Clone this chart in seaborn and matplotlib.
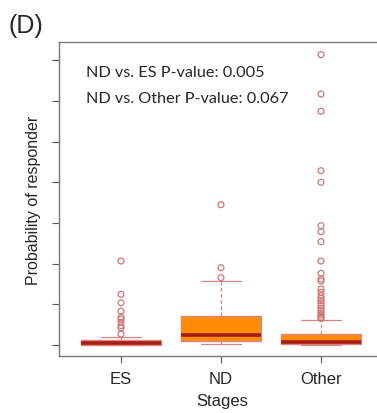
import numpy as np
import pandas as pd
import matplotlib
matplotlib.use("Agg")
import matplotlib.pyplot as plt
import seaborn as sns

stages = ["ES", "ND", "Other"]
q1 = [0.0, 0.009, 0.0025]
med = [0.0042, 0.0246, 0.0074]
q3 = [0.0123, 0.072, 0.0263]
whislo = [0.0, 0.0017, 0.0]
whishi = [0.019, 0.1565, 0.0614]
fliers_es = [0.2064, 0.1246, 0.1039, 0.0835, 0.0681, 0.0639, 0.0560, 0.0474, 0.0418, 0.027]
fliers_nd = [0.3447, 0.19, 0.1654]
fliers_other = [0.7133, 0.6167, 0.5742, 0.4283, 0.3998, 0.2931, 0.2784, 0.2538, 0.2064,
                0.1762, 0.1622, 0.1572, 0.1376, 0.1295, 0.1211, 0.1147, 0.1088, 0.1032,
                0.0966, 0.0902, 0.0843, 0.0786, 0.0737, 0.0681, 0.0650]
pvals = ["ND vs. ES P-value: 0.005", "ND vs. Other P-value: 0.067"]

sns.set_style("white")
plt.rcParams["font.family"] = ["Liberation Sans", "DejaVu Sans"]

fig = plt.figure(figsize=(3.77, 4.14), dpi=100)
ax = fig.add_axes([59/377, 57/414, 1 - 59/377 + 0.02, (357-43)/414])

border = "#D98585"
stats = []
for i, s in enumerate(stages):
    stats.append(dict(label=s, q1=q1[i], med=med[i], q3=q3[i],
                      whislo=whislo[i], whishi=whishi[i], fliers=[]))
ax.bxp(stats, positions=[0, 1, 2], widths=0.8, patch_artist=True, showfliers=False,
       boxprops=dict(facecolor="#FF8C00", edgecolor=border, linewidth=1.0),
       medianprops=dict(color="#A51C1C", linewidth=2.6, solid_capstyle="butt"),
       whiskerprops=dict(color=border, linestyle=(0, (3, 2)), linewidth=0.9),
       capprops=dict(color=border, linewidth=0.9), capwidths=0.4)

fl = pd.DataFrame({
    "stage": ["ES"] * len(fliers_es) + ["ND"] * len(fliers_nd) + ["Other"] * len(fliers_other),
    "value": fliers_es + fliers_nd + fliers_other,
})
fl["pos"] = fl["stage"].map({s: i for i, s in enumerate(stages)})
sns.scatterplot(data=fl, x="pos", y="value", ax=ax, marker="o", s=18,
                facecolors="none", edgecolor="#CC7777", linewidth=0.9, legend=False, zorder=5)

ax.set_xlim(-0.62, 2.635)
ax.set_ylim(-0.027, 0.7445)
ax.set_xticks([0, 1, 2])
ax.set_xticklabels(stages, fontsize=12)
ax.set_yticks(np.arange(0, 0.71, 0.1))
ax.set_yticklabels([])
ax.tick_params(axis="both", direction="out", length=5, width=0.8, color="#555555",
               left=True, bottom=True, pad=6)
ax.set_xlabel("Stages", fontsize=12, labelpad=5)
ax.set_ylabel("Probability of responder", fontsize=11.5, labelpad=2)
for sp in ["left", "bottom", "top"]:
    ax.spines[sp].set_color("#777777")
    ax.spines[sp].set_linewidth(1.0)
ax.spines["right"].set_visible(False)

for j, t in enumerate(pvals):
    fig.text(86/377, 1 - (73 + 26*j)/414, t, fontsize=11.7, va="center", ha="left",
             family=["Lato", "DejaVu Sans"])

fig.text(8/377, 1 - 26/414, "(D)", fontsize=18, va="center", ha="left")

fig.savefig("out.png", dpi=100)
